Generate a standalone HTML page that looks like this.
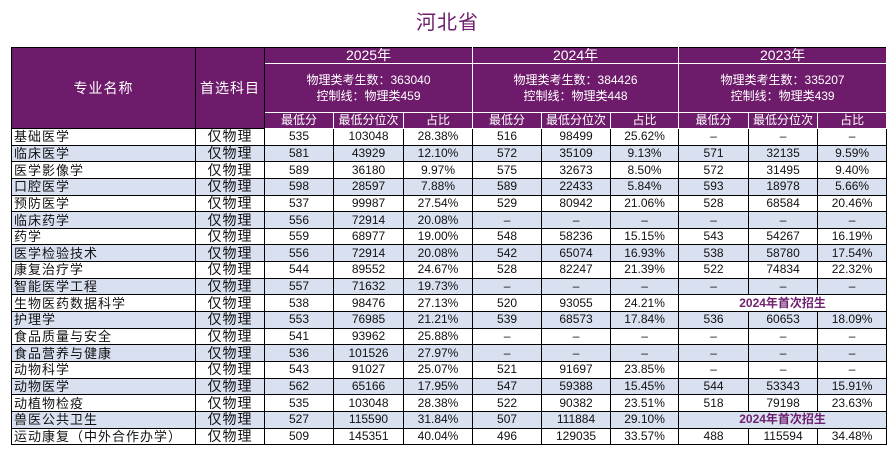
<!DOCTYPE html>
<html><head><meta charset="utf-8"><style>
body{margin:0;width:895px;height:453px;background:#fff;font-family:"Liberation Sans","Noto Sans CJK SC",sans-serif;overflow:hidden;position:relative}
.title{position:absolute;top:6px;left:0;width:895px;text-align:center;color:#6e1f6e;font-size:20px;font-weight:normal;letter-spacing:1px}
table{position:absolute;left:11px;top:47px;border-collapse:collapse;table-layout:fixed;width:875px}
td{border:1px solid #000;padding:0;text-align:center;font-size:12px;line-height:13px;overflow:hidden;white-space:nowrap;color:#111}
.h td{background:#6f1b6c;color:#fff;border-color:#fff}
tr.d td{height:15.65px}
.b td{background:#d9e0f0}
.n{text-align:left;font-size:13px;padding-left:2px;letter-spacing:1px}
.s{font-size:14px;letter-spacing:1px}
.f{color:#6e1f6e;font-weight:bold;font-size:12px}
</style></head><body>
<div class="title">河北省</div>
<table>
<colgroup><col style="width:184px"><col style="width:69px"><col style="width:69px"><col style="width:70px"><col style="width:69px"><col style="width:69px"><col style="width:69px"><col style="width:68px"><col style="width:70px"><col style="width:69px"><col style="width:69px"></colgroup>
<tr class="h" style="height:16px"><td rowspan="3" style="font-size:14px;letter-spacing:1px;border-color:#000">专业名称</td><td rowspan="3" style="font-size:14px;letter-spacing:1px;border-color:#000">首选科目</td><td colspan="3" style="font-size:14px;border-top-color:#000">2025年</td><td colspan="3" style="font-size:14px;border-top-color:#000">2024年</td><td colspan="3" style="font-size:14px;border-top-color:#000">2023年</td></tr>
<tr class="h" style="height:49px"><td colspan="3" style="line-height:16px">物理类考生数：363040<br>控制线：物理类459</td><td colspan="3" style="line-height:16px">物理类考生数：384426<br>控制线：物理类448</td><td colspan="3" style="line-height:16px">物理类考生数：335207<br>控制线：物理类439</td></tr>
<tr class="h" style="height:16px"><td>最低分</td><td>最低分位次</td><td>占比</td><td>最低分</td><td>最低分位次</td><td>占比</td><td>最低分</td><td>最低分位次</td><td>占比</td></tr>
<tr class="d"><td class="n">基础医学</td><td class="s">仅物理</td><td>535</td><td>103048</td><td>28.38%</td><td>516</td><td>98499</td><td>25.62%</td><td>–</td><td>–</td><td>–</td></tr>
<tr class="d b"><td class="n">临床医学</td><td class="s">仅物理</td><td>581</td><td>43929</td><td>12.10%</td><td>572</td><td>35109</td><td>9.13%</td><td>571</td><td>32135</td><td>9.59%</td></tr>
<tr class="d"><td class="n">医学影像学</td><td class="s">仅物理</td><td>589</td><td>36180</td><td>9.97%</td><td>575</td><td>32673</td><td>8.50%</td><td>572</td><td>31495</td><td>9.40%</td></tr>
<tr class="d b"><td class="n">口腔医学</td><td class="s">仅物理</td><td>598</td><td>28597</td><td>7.88%</td><td>589</td><td>22433</td><td>5.84%</td><td>593</td><td>18978</td><td>5.66%</td></tr>
<tr class="d"><td class="n">预防医学</td><td class="s">仅物理</td><td>537</td><td>99987</td><td>27.54%</td><td>529</td><td>80942</td><td>21.06%</td><td>528</td><td>68584</td><td>20.46%</td></tr>
<tr class="d b"><td class="n">临床药学</td><td class="s">仅物理</td><td>556</td><td>72914</td><td>20.08%</td><td>–</td><td>–</td><td>–</td><td>–</td><td>–</td><td>–</td></tr>
<tr class="d"><td class="n">药学</td><td class="s">仅物理</td><td>559</td><td>68977</td><td>19.00%</td><td>548</td><td>58236</td><td>15.15%</td><td>543</td><td>54267</td><td>16.19%</td></tr>
<tr class="d b"><td class="n">医学检验技术</td><td class="s">仅物理</td><td>556</td><td>72914</td><td>20.08%</td><td>542</td><td>65074</td><td>16.93%</td><td>538</td><td>58780</td><td>17.54%</td></tr>
<tr class="d"><td class="n">康复治疗学</td><td class="s">仅物理</td><td>544</td><td>89552</td><td>24.67%</td><td>528</td><td>82247</td><td>21.39%</td><td>522</td><td>74834</td><td>22.32%</td></tr>
<tr class="d b"><td class="n">智能医学工程</td><td class="s">仅物理</td><td>557</td><td>71632</td><td>19.73%</td><td>–</td><td>–</td><td>–</td><td>–</td><td>–</td><td>–</td></tr>
<tr class="d"><td class="n">生物医药数据科学</td><td class="s">仅物理</td><td>538</td><td>98476</td><td>27.13%</td><td>520</td><td>93055</td><td>24.21%</td><td colspan="3" class="f">2024年首次招生</td></tr>
<tr class="d b"><td class="n">护理学</td><td class="s">仅物理</td><td>553</td><td>76985</td><td>21.21%</td><td>539</td><td>68573</td><td>17.84%</td><td>536</td><td>60653</td><td>18.09%</td></tr>
<tr class="d"><td class="n">食品质量与安全</td><td class="s">仅物理</td><td>541</td><td>93962</td><td>25.88%</td><td>–</td><td>–</td><td>–</td><td>–</td><td>–</td><td>–</td></tr>
<tr class="d b"><td class="n">食品营养与健康</td><td class="s">仅物理</td><td>536</td><td>101526</td><td>27.97%</td><td>–</td><td>–</td><td>–</td><td>–</td><td>–</td><td>–</td></tr>
<tr class="d"><td class="n">动物科学</td><td class="s">仅物理</td><td>543</td><td>91027</td><td>25.07%</td><td>521</td><td>91697</td><td>23.85%</td><td>–</td><td>–</td><td>–</td></tr>
<tr class="d b"><td class="n">动物医学</td><td class="s">仅物理</td><td>562</td><td>65166</td><td>17.95%</td><td>547</td><td>59388</td><td>15.45%</td><td>544</td><td>53343</td><td>15.91%</td></tr>
<tr class="d"><td class="n">动植物检疫</td><td class="s">仅物理</td><td>535</td><td>103048</td><td>28.38%</td><td>522</td><td>90382</td><td>23.51%</td><td>518</td><td>79198</td><td>23.63%</td></tr>
<tr class="d b"><td class="n">兽医公共卫生</td><td class="s">仅物理</td><td>527</td><td>115590</td><td>31.84%</td><td>507</td><td>111884</td><td>29.10%</td><td colspan="3" class="f">2024年首次招生</td></tr>
<tr class="d"><td class="n">运动康复（中外合作办学）</td><td class="s">仅物理</td><td>509</td><td>145351</td><td>40.04%</td><td>496</td><td>129035</td><td>33.57%</td><td>488</td><td>115594</td><td>34.48%</td></tr>
</table>
</body></html>
